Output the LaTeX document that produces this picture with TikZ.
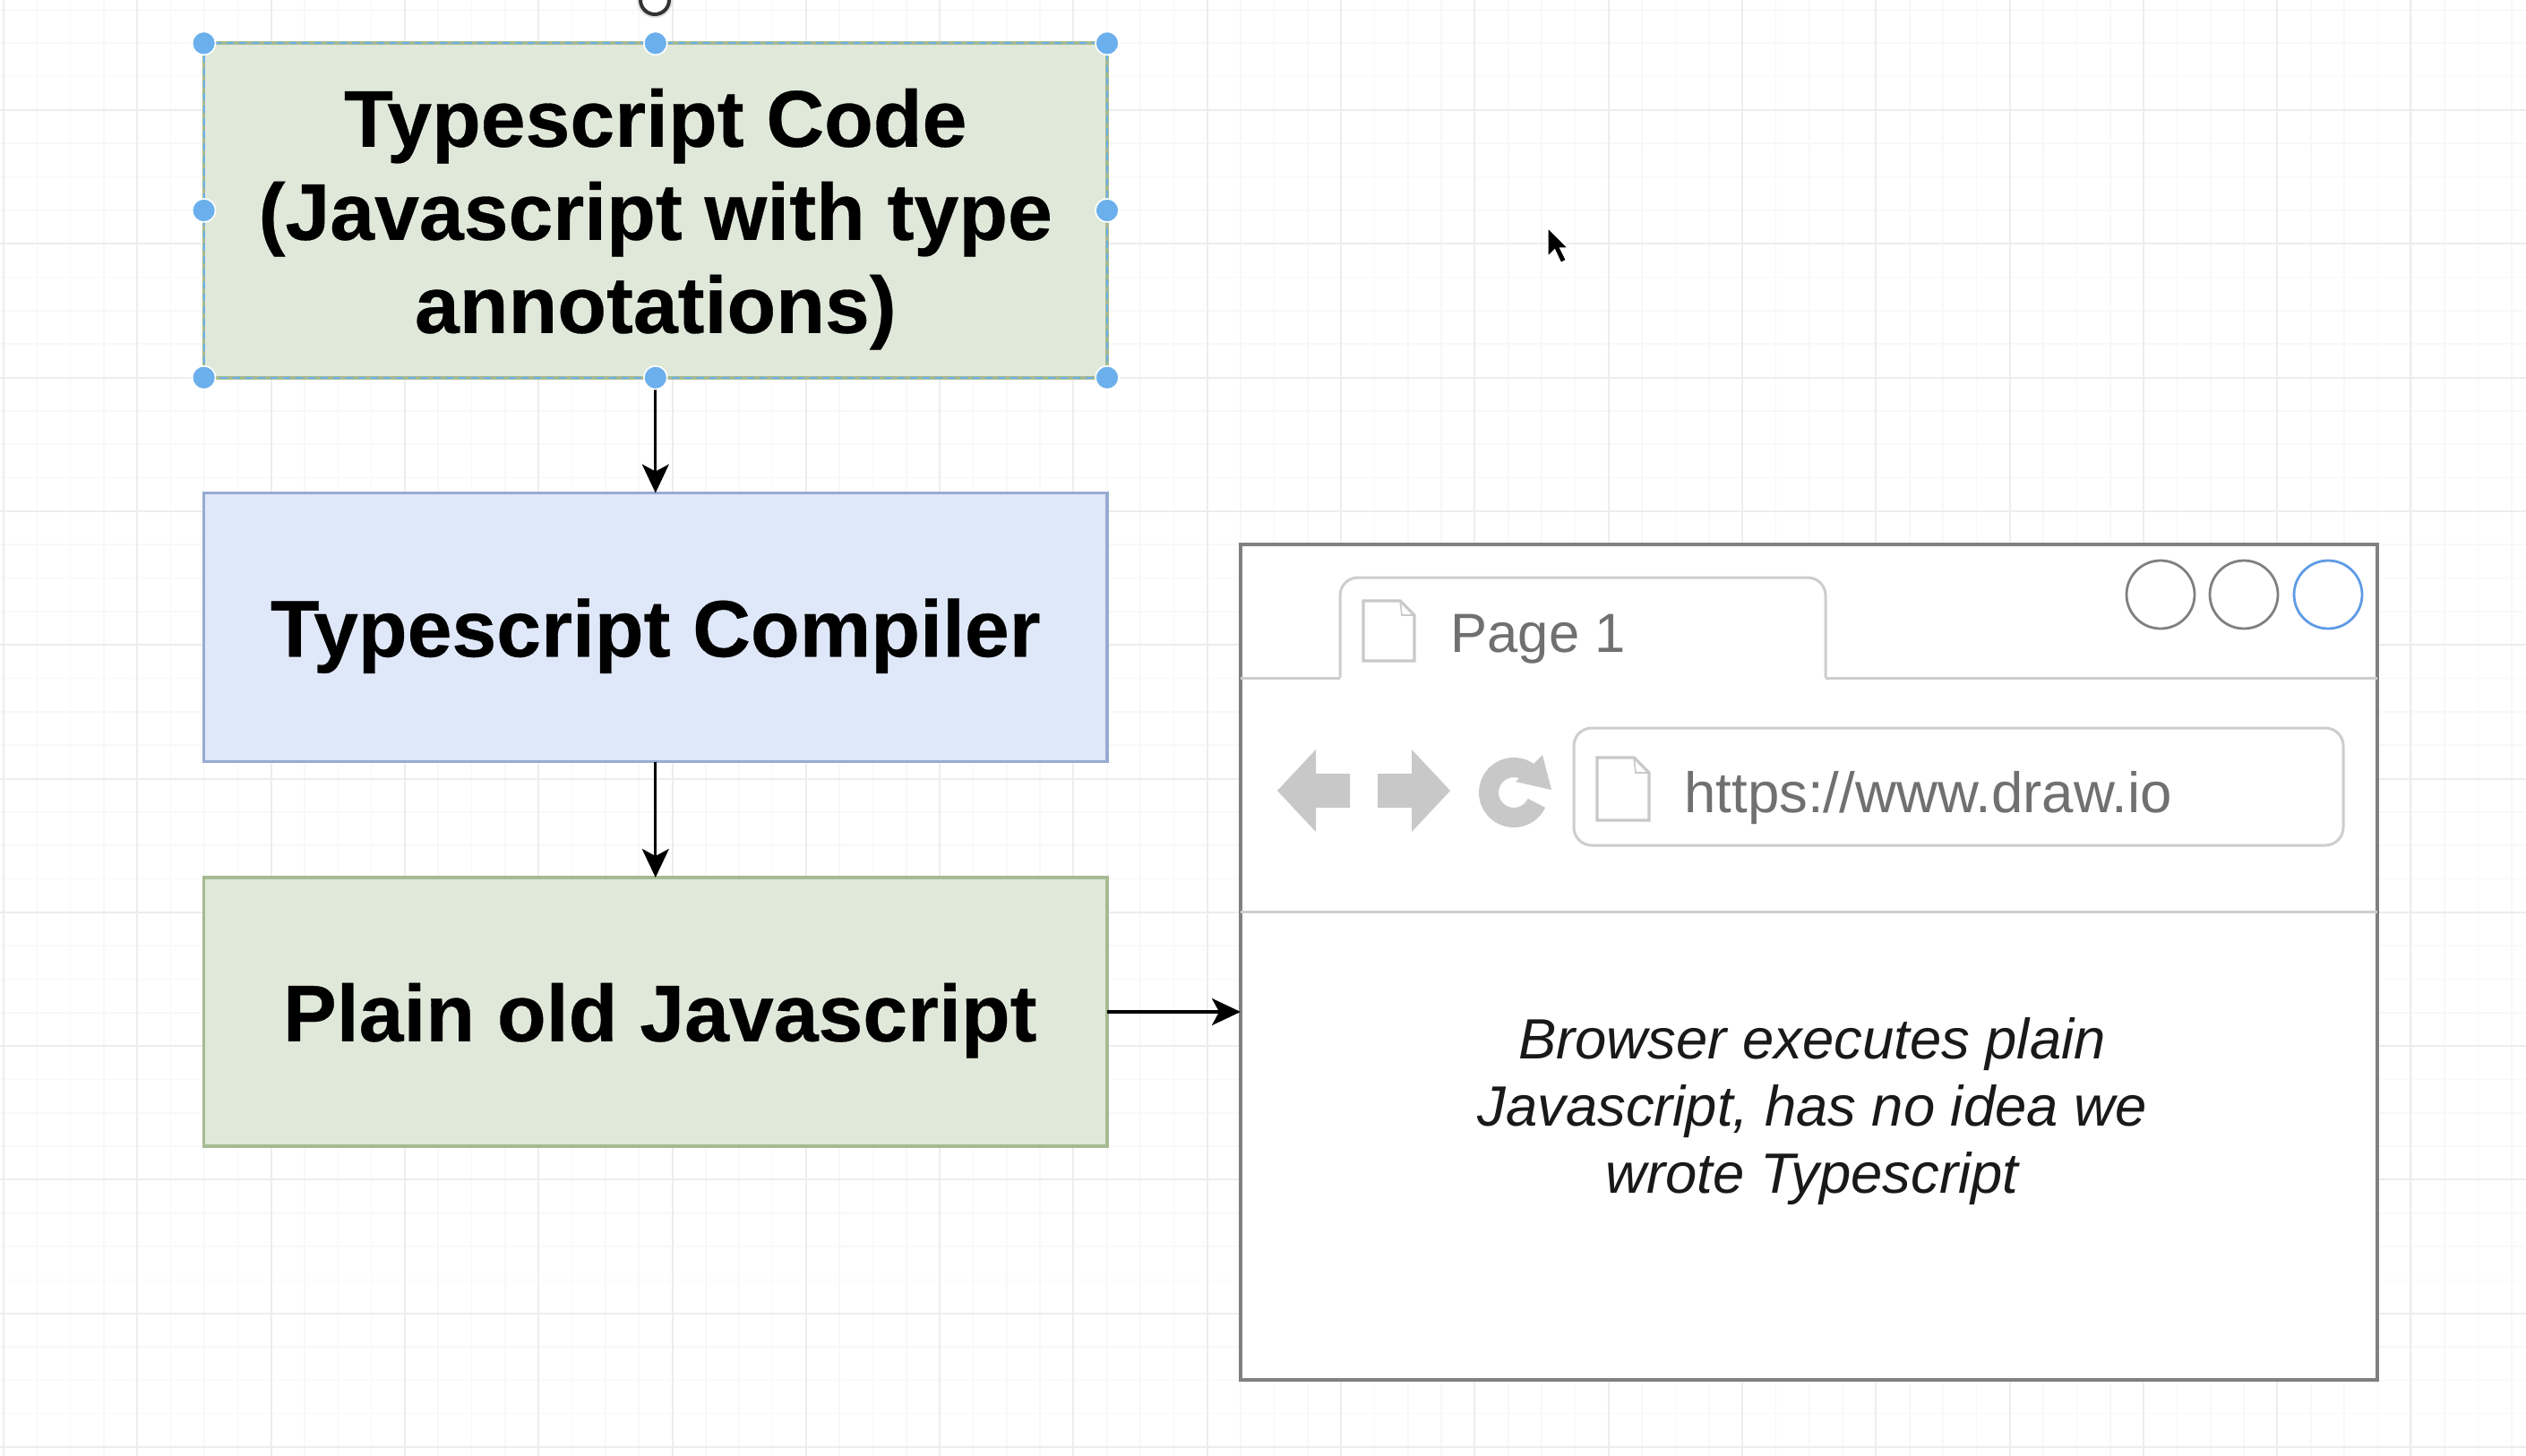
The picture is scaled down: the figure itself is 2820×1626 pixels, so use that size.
\documentclass[tikz,border=0pt]{standalone}
\usepackage{fontspec}
\setmainfont[BoldFeatures={FakeBold=0.35}]{Liberation Sans}
\usetikzlibrary{arrows.meta}
\definecolor{gridmajor}{HTML}{EDEDED}
\definecolor{gridminor}{HTML}{F8F8F8}
\definecolor{greenfill}{HTML}{E0E8DA}
\definecolor{greenline}{HTML}{A5BA92}
\definecolor{bluefill}{HTML}{DFE8F8}
\definecolor{blueline}{HTML}{98ABD0}
\definecolor{handleblue}{HTML}{6BB0EC}
\definecolor{frameline}{HTML}{808080}
\definecolor{paleline}{HTML}{CDCDCD}
\definecolor{browsertext}{HTML}{707070}
\definecolor{iconfill}{HTML}{C8C8C8}
\definecolor{winblue}{HTML}{5F9BE6}
\newcommand{\lowered}[1]{\raisebox{-4.8pt}[\height][\depth]{#1}}
\tikzset{
  flowbox/.style={rectangle,inner sep=0pt,outer sep=0pt,minimum width=504.2pt,line width=1.8pt,align=center,
    font=\bfseries\fontsize{44.8}{52}\selectfont,text=black},
  greenbox/.style={flowbox,fill=greenfill,draw=greenline},
  bluebox/.style={flowbox,fill=bluefill,draw=blueline},
  handle/.style={circle,fill=handleblue,draw=white,line width=.8pt,minimum size=13pt,inner sep=0pt},
  flowarrow/.style={-{Stealth[length=16pt,width=15pt,inset=4pt]},line width=1.6pt,black},
  wincircle/.style={circle,fill=white,line width=1.4pt,minimum size=38pt,inner sep=0pt,draw=frameline},
  pageicon/.style={fill=white,draw=iconfill,line width=1.6pt,line join=miter},
  greytext/.style={anchor=base west,inner sep=0pt,text=browsertext},
}
\begin{document}
\begin{tikzpicture}[x=0.5pt,y=-0.5pt]
\useasboundingbox (0,0) rectangle (2820,1626);
\fill[white] (0,0) rectangle (2820,1626);
% grid
\foreach \k in {0,...,76} {
  \pgfmathsetmacro{\gx}{4+37.33*\k}
  \draw[gridminor,line width=.8pt] (\gx,0) -- (\gx,1626);
}
\foreach \k in {0,...,44} {
  \pgfmathsetmacro{\gy}{1616-37.33*\k}
  \draw[gridminor,line width=.8pt] (0,\gy) -- (2820,\gy);
}
\foreach \k in {0,...,19} {
  \pgfmathsetmacro{\gx}{4+149.3*\k}
  \draw[gridmajor,line width=1pt] (\gx,0) -- (\gx,1626);
}
\foreach \k in {0,...,10} {
  \pgfmathsetmacro{\gy}{1616-149.3*\k}
  \draw[gridmajor,line width=1pt] (0,\gy) -- (2820,\gy);
}
% flow boxes
\node[greenbox,minimum height=186.7pt] (code) at (731.8,235) {\lowered{\parbox{500pt}{\centering Typescript Code\\(Javascript with type\\annotations)}}};
\node[bluebox,minimum height=150pt] (compiler) at (731.8,700.5) {\lowered{Typescript Compiler}};
\node[greenbox,minimum height=150pt] (plain) at (731.8,1130) {\lowered{\hspace*{5pt}Plain old Javascript}};
% browser
\node[rectangle,draw=frameline,fill=white,line width=1.8pt,inner sep=0pt,outer sep=0pt,minimum width=634.5pt,minimum height=466.5pt] (browser) at (2019.5,1074.5) {};
\draw[flowarrow] (code.south) -- (compiler.north);
\draw[flowarrow] (compiler.south) -- (plain.north);
\draw[flowarrow] (plain.east) -- (plain.east -| browser.west);
% selection
\draw[handleblue,line width=.9pt,dash pattern=on 4pt off 3pt] (code.north west) rectangle (code.south east);
\foreach \a/\n in {north west/a,north/b,north east/c,west/d,east/e,south west/f,south/g,south east/h}
  \node[handle] (handle\n) at (code.\a) {};
% rotate handle
\node[circle,draw=black!80,fill=white,line width=2pt,minimum size=16pt,inner sep=0pt,preaction={draw=black!12,line width=4pt}] (rotate) at (731,0) {};
% browser interior
\draw[paleline,line width=1.5pt] (browser.west |- 0,757) -- (1496,757);
\draw[paleline,line width=1.5pt] (2038,757) -- (browser.east |- 0,757);
\draw[paleline,line width=1.5pt,rounded corners=10pt] (1496,757) -- (1496,645) -- (2038,645) -- (2038,757);
\draw[paleline,line width=1.5pt] (browser.west |- 0,1018) -- (browser.east |- 0,1018);
\node[wincircle] (winA) at (2412,664) {};
\node[wincircle] (winB) at (2505,664) {};
\node[wincircle,draw=winblue] (winC) at (2599,664) {};
\draw[pageicon] (1522,671) -- (1563,671) -- (1579,687) -- (1579,738) -- (1522,738) -- cycle;
\draw[iconfill,line width=.8pt] (1563,671) -- (1565,687) -- (1579,687);
\node[greytext,font=\fontsize{30.8}{36}\selectfont] (pagetext) at (1619,728) {Page 1};
\node[rectangle,rounded corners=10pt,draw=paleline,fill=white,line width=1.5pt,inner sep=0pt,minimum width=429.5pt,minimum height=65.5pt] (urlbox) at (2186.5,878.5) {};
\draw[pageicon] (1783,846) -- (1824,846) -- (1841,863) -- (1841,916) -- (1783,916) -- cycle;
\draw[iconfill,line width=.8pt] (1824,846) -- (1826,863) -- (1841,863);
\node[greytext,font=\fontsize{31.8}{37}\selectfont] (urltext) at (1880,907) {https://www.draw.io};
\fill[iconfill] (1426,883) -- (1469,837) -- (1469,864) -- (1507,864) -- (1507,902) -- (1469,902) -- (1469,929) -- cycle;
\fill[iconfill] (1619,883) -- (1576,837) -- (1576,864) -- (1538,864) -- (1538,902) -- (1576,902) -- (1576,929) -- cycle;
\draw[iconfill,line width=11pt] plot[smooth,domain=-42:-335,samples=40] ({1690+28*cos(\x)},{885+28*sin(\x)});
\fill[iconfill] (1722,843) -- (1732,882) -- (1692,873) -- cycle;
% browser caption
\node[align=center,inner sep=0pt,font=\itshape\fontsize{31.7}{37.5}\selectfont,text=black!90] (caption) at (2023,1241) {Browser executes plain\\Javascript, has no idea we\\wrote Typescript};
% mouse cursor
\draw[black,fill=black,line width=.3pt,line join=round,preaction={draw=white,line width=2.5pt}] (1729,257) -- (1729,284) -- (1736,277) -- (1743,292) -- (1747,290) -- (1740,276) -- (1748,276) -- cycle;
\end{tikzpicture}
\end{document}
